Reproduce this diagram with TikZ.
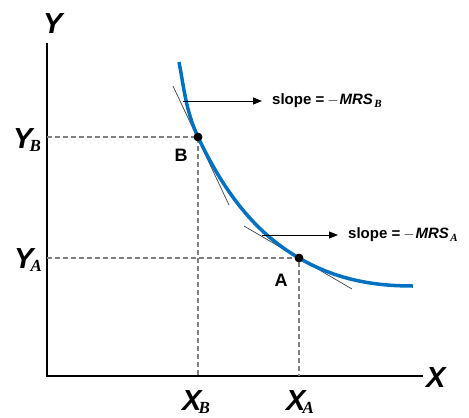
\documentclass[tikz,border=0pt]{standalone}
\usepackage{fontspec}
\setmainfont{Liberation Sans}
\newfontfamily\subfont{Liberation Serif}
\usetikzlibrary{arrows.meta}
\definecolor{curveblue}{RGB}{0,112,192}
\definecolor{dashgray}{RGB}{128,128,128}
\newcommand{\axlbl}[2]{{\fontsize{29}{29}\selectfont\bfseries\itshape #1}\ifx&#2&\else\kern-3pt\raisebox{-3pt}{\fontsize{17}{17}\selectfont\subfont\bfseries\itshape #2}\fi}
\newcommand{\slopelbl}[1]{{\fontsize{15}{15}\selectfont\bfseries slope =\kern3pt{\normalfont\bfseries$-$}\kern1pt\itshape MRS\kern1.5pt\raisebox{-3pt}{\fontsize{11}{11}\selectfont\subfont\bfseries\itshape #1}}}
\begin{document}
\begin{tikzpicture}[x=1pt,y=-1pt,
  axis/.style={line width=1.1pt,black},
  guide/.style={dashgray,line width=1.1pt,dash pattern=on 5pt off 3pt},
  tangent/.style={line width=0.7pt,black!75},
  icurve/.style={curveblue,line width=3.5pt},
  dot/.style={circle,fill=black,inner sep=0pt,minimum size=8.5pt},
  pointer/.style={line width=0.8pt,-{Triangle[length=9pt,width=7pt]}},
  axlab/.style={inner sep=0pt,anchor=base west},
  ptlab/.style={font=\fontsize{18}{18}\selectfont\bfseries,inner sep=0pt}]
\useasboundingbox (0,0) rectangle (469,418);
% axes
\coordinate (O) at (47,376);
\coordinate (ytop) at (47,43);
\coordinate (xend) at (423,376);
\draw[axis] (ytop) -- (O) -- (xend);
% points
\node[dot] (B) at (198,137) {};
\node[dot] (A) at (299,258) {};
\coordinate (yB) at (47,137);
\coordinate (yA) at (47,258);
\coordinate (xB) at (198,376);
\coordinate (xA) at (299,376);
\draw[guide] (yB) -- (B.center) -- (xB);
\draw[guide] (yA) -- (A.center) -- (xA);
% tangents
\coordinate (tB1) at (173,86);
\coordinate (tB2) at (229,205);
\coordinate (tA1) at (244,226);
\coordinate (tA2) at (352,289);
\draw[tangent] (tB1) -- (tB2);
\draw[tangent] (tA1) -- (tA2);
% curve
\coordinate (S) at (179,62);
\coordinate (E) at (413,286);
\draw[icurve] (S) .. controls (184,88) and (186,111.5) .. (B.center)
  .. controls (231,207) and (266,238.8) .. (A.center)
  .. controls (337,280.2) and (375,286) .. (E);
\fill (B) circle (4.25pt);
\fill (A) circle (4.25pt);
% slope labels
\node[anchor=west,inner sep=0pt] (sB) at (272,101) {\slopelbl{B}};
\node[anchor=west,inner sep=0pt] (sA) at (348,235) {\slopelbl{A}};
\coordinate (pB) at (183,101);
\coordinate (pA) at (262,235);
\draw[pointer] (pB) -- ([xshift=-10pt]sB.west);
\draw[pointer] (pA) -- ([xshift=-10pt]sA.west);
% point labels
\node[ptlab] (Blab) at (181,155) {B};
\node[ptlab] (Alab) at (281,280) {A};
% axis labels
\node[axlab] (Ylab) at (43,33) {\axlbl{Y}{}};
\node[axlab] (Xlab) at (426,387) {\axlbl{X}{}};
\node[axlab] (YBlab) at (13,148) {\axlbl{Y}{B}};
\node[axlab] (YAlab) at (14,268) {\axlbl{Y}{A}};
\node[axlab] (XBlab) at (182,410) {\axlbl{X}{B}};
\node[axlab] (XAlab) at (286,410) {\axlbl{X}{A}};
\end{tikzpicture}
\end{document}
